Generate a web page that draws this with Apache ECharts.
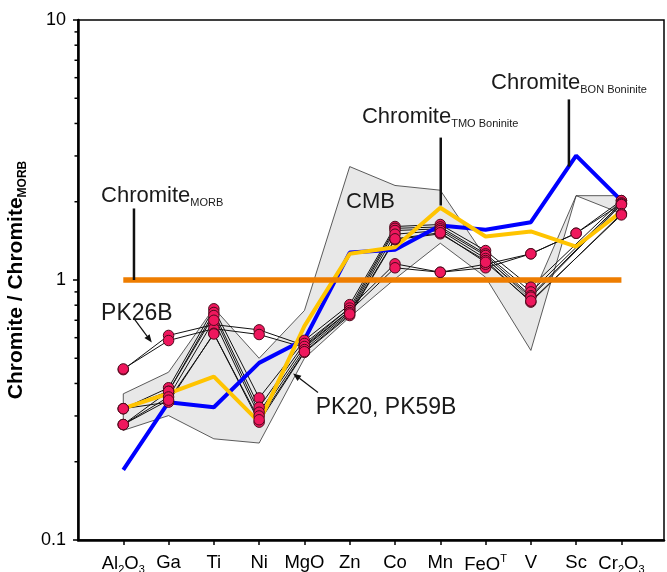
<!DOCTYPE html>
<html><head><meta charset="utf-8">
<script src="https://cdn.jsdelivr.net/npm/echarts@6/dist/echarts.min.js"></script>
<style>html,body{margin:0;padding:0;background:#fff}#c{width:667px;height:572px}</style>
</head><body><div id="c"></div>
<script>
// ---------- data ----------
const categories = ['Al2O3', 'Ga', 'Ti', 'Ni', 'MgO', 'Zn', 'Co', 'Mn', 'FeOT', 'V', 'Sc', 'Cr2O3'];
const categoryLabels = ['{n|Al}{s|2}{n|O}{s|3}', '{n|Ga}', '{n|Ti}', '{n|Ni}', '{n|MgO}', '{n|Zn}', '{n|Co}', '{n|Mn}', '{n|FeO}{p|T}', '{n|V}', '{n|Sc}', '{n|Cr}{s|2}{n|O}{s|3}'];
const yMajorTicks = [0.1, 1, 10];
const yMinorTicks = [0.2, 0.3, 0.4, 0.5, 0.6, 0.7, 0.8, 0.9, 2, 3, 4, 5, 6, 7, 8, 9];

// CMB field envelope
const cmbUpper = [0.365, 0.442, 0.78, 0.50, 0.763, 2.73, 2.31, 2.215, 1.22, 0.84, 2.11, 2.11];
const cmbLower = [0.264, 0.301, 0.245, 0.236, 0.50, 0.72, 1.01, 1.385, 1.025, 0.536, 2.11, 1.80];

// reference chromites
const chromiteMORB = [1, 1, 1, 1, 1, 1, 1, 1, 1, 1, 1, 1];
const chromiteTMO = [0.321, 0.366, 0.425, 0.284, 0.665, 1.261, 1.337, 1.896, 1.47, 1.537, 1.345, 1.833];
const chromiteBON = [0.186, 0.339, 0.324, 0.48, 0.59, 1.275, 1.307, 1.62, 1.56, 1.668, 3.01, 2.02];

// samples
const pk26b = [
  [0.452, 0.612, 0.674, 0.643, 0.560, 0.780, 1.154, 1.071, 1.114, 1.261, 1.513, 2.020],
  [0.455, 0.585, 0.650, 0.617, 0.550, 0.760, 1.114, 1.071, 1.150, 1.261, 1.513, 1.963]
];
const pk20pk59b = [
  [0.320, 0.385, 0.775, 0.352, 0.586, 0.804, 1.606, 1.635, 1.298, 0.938, null, 2.020],
  [0.320, 0.373, 0.750, 0.324, 0.570, 0.780, 1.580, 1.600, 1.260, 0.900, null, 1.980],
  [0.278, 0.373, 0.730, 0.310, 0.555, 0.763, 1.550, 1.573, 1.242, 0.870, null, 1.963],
  [0.278, 0.355, 0.700, 0.300, 0.540, 0.750, 1.500, 1.550, 1.210, 0.859, null, 1.950],
  [0.320, 0.339, 0.624, 0.284, 0.527, 0.730, 1.430, 1.505, 1.188, 0.822, null, 1.800],
  [0.278, 0.345, 0.620, 0.290, 0.530, 0.740, 1.440, 1.520, 1.170, 0.830, null, 1.780]
];

// ---------- build ----------
const FONT = '"Liberation Sans", Arial, Helvetica, sans-serif';
const toPairs = arr => arr.map((v, i) => [i, v]).filter(d => d[1] != null);
const samples = pk26b.concat(pk20pk59b);

const series = [];
series.push({
  type: 'custom', z: 1, silent: true, clip: false,
  data: [[0, 1]],
  renderItem: (params, api) => {
    const pts = [];
    cmbUpper.forEach((v, i) => pts.push(api.coord([i, v])));
    for (let i = cmbLower.length - 1; i >= 0; i--) pts.push(api.coord([i, cmbLower[i]]));
    return { type: 'polygon', shape: { points: pts }, style: { fill: '#e8e8e8', stroke: '#333', lineWidth: 0.8 } };
  }
});
series.push({
  type: 'custom', z: 10, silent: true, clip: false,
  data: yMinorTicks.map(v => [-1, v]),
  renderItem: (params, api) => {
    const p = api.coord([api.value(0), api.value(1)]);
    return { type: 'line', shape: { x1: p[0] - 3.5, y1: p[1], x2: p[0], y2: p[1] }, style: { stroke: '#000', lineWidth: 1.5 } };
  }
});
samples.forEach(s => series.push({
  type: 'line', z: 2, data: toPairs(s), showSymbol: false, silent: true,
  lineStyle: { color: '#111', width: 1 }
}));
series.push({ type: 'line', z: 3, data: toPairs(chromiteBON), showSymbol: false, lineStyle: { color: '#0000ff', width: 4 } });
series.push({ type: 'line', z: 4, data: toPairs(chromiteTMO), showSymbol: false, lineStyle: { color: '#ffc400', width: 4 } });
series.push({ type: 'line', z: 5, data: toPairs(chromiteMORB), showSymbol: false, lineStyle: { color: '#ee7d00', width: 5.5, cap: 'butt' } });
series.push({
  type: 'scatter', z: 6, symbol: 'circle', symbolSize: 10.5,
  data: samples.reduce((acc, s) => acc.concat(toPairs(s)), []),
  itemStyle: { color: '#ef175d', borderColor: '#4d0a1c', borderWidth: 1, opacity: 1 }
});

const option = {
  animation: false,
  backgroundColor: '#fff',
  grid: { left: 78, right: 3, top: 20, bottom: 32, show: true, borderColor: '#000', borderWidth: 1.5, outerBoundsMode: 'none', containLabel: false },
  xAxis: {
    type: 'value', min: -1, max: 11.94, interval: 1,
    splitLine: { show: false },
    axisLine: { show: true, onZero: false, lineStyle: { color: '#000', width: 2.5 } },
    axisTick: { show: true, length: 5, lineStyle: { color: '#000', width: 1.5 }, customValues: categories.map((c, i) => i) },
    axisLabel: {
      customValues: categories.map((c, i) => i),
      margin: 13,
      formatter: v => categoryLabels[Math.round(v)] || '',
      rich: {
        n: { fontSize: 18.5, fontFamily: FONT, color: '#000' },
        s: { fontSize: 11, fontFamily: FONT, color: '#000', padding: [11, 0, 0, 0] },
        p: { fontSize: 11, fontFamily: FONT, color: '#000', padding: [0, 0, 12, 0] }
      }
    }
  },
  yAxis: {
    type: 'log', logBase: 10, min: 0.1, max: 10,
    splitLine: { show: false },
    axisLine: { show: true, onZero: false, lineStyle: { color: '#000', width: 2.5 } },
    axisTick: { show: true, length: 5, lineStyle: { color: '#000', width: 1.5 } },
    minorTick: { show: false },
    axisLabel: { fontSize: 18, fontFamily: FONT, color: '#000', margin: 12, formatter: v => String(+v.toPrecision(3)) },
    name: '{a|Chromite / Chromite}{b|MORB}',
    nameLocation: 'middle', nameRotate: 90, nameGap: 49,
    nameTextStyle: {
      rich: {
        a: { fontSize: 21, fontWeight: 'bold', fontFamily: FONT, color: '#000' },
        b: { fontSize: 12, fontWeight: 'bold', fontFamily: FONT, color: '#000', padding: [13, 0, 0, 0] }
      }
    }
  },
  series: series
};

const chart = echarts.init(document.getElementById('c'), null, { renderer: 'canvas' });
chart.setOption(option);

// ---------- annotations (anchored in data coordinates) ----------
const labelRich = {
  a: { fontSize: 22, fontFamily: FONT, fill: '#1a1a1a', color: '#1a1a1a' },
  b: { fontSize: 11, fontFamily: FONT, fill: '#1a1a1a', color: '#1a1a1a', padding: [14, 0, 0, 0] }
};
const textNotes = [
  { at: [-0.49, 2.11], text: '{a|Chromite}{b|MORB}' },
  { at: [5.27, 4.22], text: '{a|Chromite}{b|TMO Boninite}' },
  { at: [8.12, 5.75], text: '{a|Chromite}{b|BON Boninite}' },
  { at: [4.92, 2.0], text: '{a|CMB}' },
  { at: [-0.49, 0.743], text: '{a|PK26B}', size: 23 },
  { at: [4.25, 0.3234], text: '{a|PK20, PK59B}', size: 23 }
];
const leaders = [
  { from: [0.236, 1.884], to: [0.236, 1.0] },
  { from: [7.01, 3.53], to: [7.01, 1.934] },
  { from: [9.84, 4.95], to: [9.84, 2.73] }
];
const arrows = [
  { from: [0.25, 0.705], to: [0.63, 0.575] },
  { from: [4.30, 0.369], to: [3.75, 0.437] }
];
const px = p => chart.convertToPixel({ gridIndex: 0 }, p);
const graphics = [];
textNotes.forEach(t => {
  const p = px(t.at);
  const rich = JSON.parse(JSON.stringify(labelRich));
  if (t.size) { rich.a.fontSize = t.size; }
  graphics.push({ type: 'text', x: p[0], y: p[1], z: 100, silent: true,
    style: { text: t.text, rich: rich, align: 'left', verticalAlign: 'middle', textAlign: 'left', textVerticalAlign: 'middle' } });
});
leaders.forEach(l => {
  const a = px(l.from), b = px(l.to);
  graphics.push({ type: 'line', z: 99, silent: true, shape: { x1: a[0], y1: a[1], x2: b[0], y2: b[1] }, style: { stroke: '#111', lineWidth: 2.5 } });
});
arrows.forEach(l => {
  const a = px(l.from), b = px(l.to);
  const dx = b[0] - a[0], dy = b[1] - a[1], len = Math.hypot(dx, dy);
  const ux = dx / len, uy = dy / len, hl = 8, hw = 3.2;
  const bx = b[0] - ux * hl, by = b[1] - uy * hl;
  graphics.push({ type: 'line', z: 99, silent: true, shape: { x1: a[0], y1: a[1], x2: bx, y2: by }, style: { stroke: '#111', lineWidth: 1.2 } });
  graphics.push({ type: 'polygon', z: 99, silent: true, shape: { points: [[b[0], b[1]], [bx - uy * hw, by + ux * hw], [bx + uy * hw, by - ux * hw]] }, style: { fill: '#111' } });
});
chart.setOption({ graphic: graphics });
</script>
</body></html>
